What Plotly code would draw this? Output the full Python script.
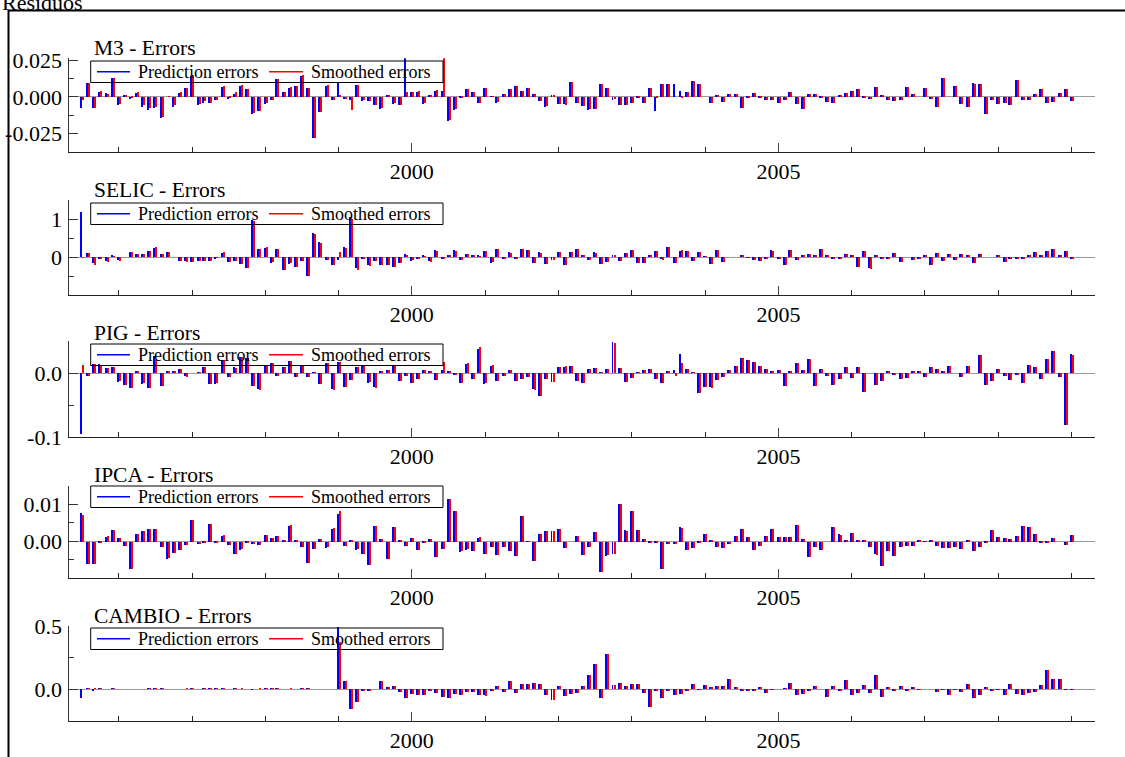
import plotly.graph_objects as go

W, H = 1125, 757

# ---------------- data (monthly, 1995:7 - 2009:1) ----------------
start_year, start_month, n_months = 1995, 7, 163
months = [f"{start_year + (start_month - 1 + k) // 12}-{(start_month - 1 + k) % 12 + 1:02d}-01"
          for k in range(n_months)]

m3_pred = [
    -0.008, 0.0092, -0.008, 0.0033, 0.0025, 0.013, -0.0055, 0.0005, -0.0015, 0.0025,
    -0.007, -0.0088, -0.0078, -0.0145, 0.0, -0.0068, 0.0028, 0.006, 0.014, -0.006,
    -0.004, -0.0045, -0.0025, 0.0065, -0.0015, 0.002, 0.0075, 0.005, -0.0115, -0.010,
    -0.005, -0.0025, 0.012, 0.003, 0.006, 0.007, 0.014, 0.006, -0.028, -0.0105,
    0.0075, -0.0025, 0.009, -0.0015, -0.002, 0.008, -0.003, -0.003, -0.006, -0.0085,
    0.0006, -0.005, -0.0055, 0.026, 0.003, 0.003, -0.005, 0.001, 0.004, 0.004,
    -0.0165, -0.009, -0.001, 0.005, 0.003, -0.004, 0.006, 0.0003, -0.004, 0.0015,
    0.005, 0.007, 0.0035, 0.006, 0.002, -0.003, -0.007, 0.001, -0.005, -0.005,
    0.0097, -0.004, -0.0066, -0.0088, -0.0083, 0.0088, 0.006, -0.002, -0.0055, -0.006,
    -0.0044, -0.001, -0.0044, 0.006, -0.010, 0.0088, 0.0088, 0.0088, 0.0037, 0.0033,
    0.0105, 0.0085, 0.0, -0.0045, 0.001, -0.0035, 0.002, 0.0015, -0.0075, -0.001,
    0.0025, -0.001, -0.0025, -0.002, -0.0045, -0.0025, 0.003, -0.005, -0.0085, 0.002,
    0.002, -0.0008, -0.0035, -0.004, 0.001, 0.0025, 0.004, 0.005, -0.0005, -0.0015,
    0.0065, 0.001, -0.002, -0.003, -0.002, 0.0065, 0.002, 0.0, 0.006, -0.0015,
    -0.007, 0.0125, 0.0, 0.007, -0.005, -0.007, 0.009, 0.0088, -0.012, -0.0025,
    -0.005, -0.004, -0.006, 0.011, -0.002, -0.002, 0.0018, 0.0055, -0.004, -0.0035,
    0.0025, 0.0055, -0.003]
m3_smooth = [
    -0.0026, 0.0092, -0.008, 0.0035, 0.002, 0.013, -0.005, 0.0005, -0.001, 0.003,
    -0.006, -0.008, -0.007, -0.014, 0.0003, -0.006, 0.0032, 0.006, 0.015, -0.005,
    -0.003, -0.004, -0.002, 0.007, -0.001, 0.003, 0.0078, 0.005, -0.011, -0.010,
    -0.004, -0.002, 0.012, 0.003, 0.0065, 0.0075, 0.015, 0.006, -0.028, -0.0105,
    0.0078, -0.002, 0.001, -0.0015, -0.0094, 0.008, -0.0025, -0.003, -0.0055, -0.008,
    0.0006, -0.0045, -0.0055, 0.003, 0.003, 0.0035, -0.0045, 0.001, 0.0045, 0.026,
    -0.016, -0.0085, -0.001, 0.005, 0.003, -0.004, 0.006, 0.0003, -0.0035, 0.0015,
    0.005, 0.007, 0.0035, 0.006, 0.0015, -0.003, -0.0065, 0.001, -0.005, -0.0055,
    0.010, -0.004, -0.0066, -0.0085, -0.0085, 0.0088, 0.006, -0.0015, -0.006, -0.006,
    -0.0044, -0.001, -0.0044, 0.006, -0.0005, 0.0088, 0.0088, 0.0, -0.001, 0.0033,
    0.0105, 0.0085, 0.0, -0.0045, 0.001, -0.0035, 0.002, 0.0015, -0.0075, -0.001,
    0.0025, -0.001, -0.0025, -0.002, -0.0045, -0.0025, 0.003, -0.005, -0.0085, 0.002,
    0.002, -0.0008, -0.0035, -0.004, 0.001, 0.0025, 0.004, 0.005, -0.0005, -0.0015,
    0.0065, 0.001, -0.002, -0.003, -0.002, 0.0065, 0.002, 0.0, 0.006, -0.0015,
    -0.007, 0.0125, 0.0, 0.007, -0.005, -0.007, 0.0088, 0.0088, -0.012, -0.0025,
    -0.005, -0.004, -0.006, 0.011, -0.002, -0.002, 0.0018, 0.0055, -0.004, -0.0035,
    0.0025, 0.0055, -0.003]

selic_pred = [
    1.18, 0.1, -0.15, -0.04, -0.1, 0.04, -0.08, 0.0, 0.12, 0.07,
    0.08, 0.16, 0.25, 0.08, 0.12, 0.0, -0.1, -0.1, -0.12, -0.1,
    -0.1, -0.1, -0.03, 0.1, -0.12, -0.1, -0.18, -0.28, 0.97, 0.22,
    0.25, -0.15, 0.2, -0.35, -0.18, -0.25, -0.1, -0.5, 0.63, 0.4,
    -0.07, -0.2, -0.07, 0.27, 1.05, -0.3, -0.05, -0.22, -0.1, -0.2,
    -0.22, -0.25, -0.17, 0.07, -0.1, -0.05, 0.03, -0.1, 0.18, -0.03,
    0.06, 0.18, -0.07, 0.08, 0.03, 0.03, 0.16, -0.15, 0.2, -0.05,
    0.12, -0.03, 0.22, 0.18, -0.15, 0.12, -0.18, -0.07, 0.13, -0.2,
    0.12, 0.2, 0.05, -0.08, 0.12, -0.18, -0.13, 0.03, -0.1, 0.1,
    0.18, -0.15, -0.15, 0.03, 0.16, -0.06, 0.27, -0.15, 0.16, 0.17,
    -0.1, 0.12, 0.02, -0.18, 0.18, -0.12, 0.0, 0.0, 0.04, -0.02,
    -0.08, -0.1, -0.05, 0.18, -0.04, -0.2, 0.18, -0.07, 0.06, 0.08,
    0.03, 0.22, 0.03, -0.04, -0.04, 0.08, 0.03, -0.25, 0.16, -0.3,
    0.06, -0.06, -0.03, 0.1, -0.12, 0.0, -0.07, -0.05, 0.05, -0.2,
    0.1, -0.1, 0.08, -0.07, 0.07, 0.06, -0.15, 0.08, 0.0, 0.0,
    0.06, -0.12, -0.03, -0.03, -0.04, 0.05, 0.13, 0.03, 0.16, 0.22,
    0.03, 0.15, -0.04]
selic_smooth = [
    -0.02, 0.1, -0.2, -0.05, -0.12, 0.02, -0.1, 0.0, 0.12, 0.08,
    0.08, 0.17, 0.26, 0.07, 0.12, 0.0, -0.1, -0.12, -0.12, -0.1,
    -0.11, -0.1, -0.02, 0.12, -0.13, -0.1, -0.18, -0.3, 0.95, 0.22,
    0.26, -0.14, 0.2, -0.35, -0.17, -0.25, -0.1, -0.5, 0.6, 0.38,
    -0.08, -0.22, 0.14, 0.24, 1.0, -0.33, -0.04, -0.24, -0.1, -0.21,
    -0.22, -0.26, -0.16, 0.05, -0.09, -0.06, 0.02, -0.12, 0.17, -0.03,
    0.05, 0.17, -0.08, 0.07, 0.03, 0.02, 0.15, -0.14, 0.2, -0.06,
    0.11, -0.03, 0.21, 0.18, -0.16, 0.11, -0.18, -0.08, 0.12, -0.2,
    0.12, 0.2, 0.05, -0.09, 0.11, -0.19, -0.14, 0.03, -0.1, 0.1,
    0.18, -0.16, -0.15, 0.03, 0.16, -0.07, 0.26, -0.15, 0.18, 0.17,
    -0.1, 0.12, 0.02, -0.19, 0.18, -0.12, 0.0, 0.0, 0.04, -0.02,
    -0.08, -0.1, -0.05, 0.17, -0.04, -0.2, 0.18, -0.08, 0.06, 0.08,
    0.03, 0.22, 0.03, -0.04, -0.05, 0.08, 0.03, -0.25, 0.15, -0.32,
    0.06, -0.06, -0.03, 0.1, -0.12, 0.0, -0.07, -0.05, 0.05, -0.2,
    0.1, -0.1, 0.08, -0.07, 0.07, 0.06, -0.16, 0.08, 0.0, 0.0,
    0.06, -0.12, -0.03, -0.03, -0.04, 0.05, 0.14, 0.03, 0.16, 0.22,
    0.03, 0.15, -0.04]

pig_pred = [
    -0.096, -0.005, 0.014, 0.014, 0.008, 0.009, -0.014, -0.018, -0.024, 0.002,
    -0.017, -0.023, 0.026, -0.02, 0.002, 0.002, 0.007, -0.005, 0.0, 0.001,
    0.009, -0.017, -0.017, 0.021, -0.007, 0.009, 0.025, 0.024, -0.02, -0.025,
    0.011, 0.015, -0.005, 0.009, 0.019, -0.007, 0.011, -0.006, 0.001, -0.017,
    0.016, -0.025, 0.017, -0.022, -0.011, 0.009, 0.011, -0.015, -0.022, 0.003,
    0.005, 0.011, -0.013, -0.004, -0.016, -0.01, 0.004, 0.002, -0.011, 0.005,
    0.003, -0.002, -0.015, 0.014, -0.01, 0.0375, -0.017, 0.011, -0.012, -0.005,
    0.004, -0.013, -0.009, -0.007, -0.025, -0.036, -0.01, -0.014, 0.009, 0.01,
    0.011, -0.012, -0.015, 0.006, 0.008, 0.001, 0.007, 0.048, 0.008, -0.014,
    -0.008, 0.001, 0.004, 0.006, -0.01, -0.015, 0.002, 0.005, 0.03, 0.006,
    0.001, -0.032, -0.022, -0.022, -0.011, -0.007, 0.005, 0.011, 0.024, 0.02,
    0.017, 0.011, 0.006, 0.003, 0.004, -0.02, 0.003, 0.015, 0.005, 0.022,
    -0.021, 0.006, -0.005, -0.018, -0.01, 0.009, -0.008, 0.009, -0.029, 0.0,
    -0.018, -0.012, 0.003, -0.003, -0.009, -0.008, 0.002, 0.003, -0.006, 0.01,
    0.007, 0.003, 0.011, 0.0, -0.006, 0.011, 0.0, 0.028, -0.019, -0.013,
    0.006, -0.005, -0.011, -0.003, -0.015, 0.013, 0.009, -0.01, 0.022, 0.035,
    -0.006, -0.082, 0.029]
pig_smooth = [
    0.012, -0.004, 0.014, 0.013, 0.008, 0.009, -0.013, -0.019, -0.024, 0.002,
    -0.016, -0.023, 0.02, -0.02, 0.002, 0.002, 0.006, -0.006, 0.0, 0.001,
    0.009, -0.017, -0.016, 0.021, -0.006, 0.008, 0.025, 0.023, -0.02, -0.026,
    0.011, 0.015, -0.004, 0.009, 0.019, -0.007, 0.011, -0.006, 0.001, -0.017,
    0.016, -0.026, 0.017, -0.022, -0.011, 0.009, 0.012, -0.014, -0.023, 0.003,
    0.005, 0.012, -0.013, -0.004, -0.016, -0.01, 0.004, 0.002, -0.011, 0.017,
    0.003, -0.002, -0.015, 0.015, -0.01, 0.04, -0.016, 0.012, -0.012, -0.005,
    0.005, -0.013, -0.009, -0.007, -0.026, -0.036, -0.01, -0.014, 0.009, 0.011,
    0.011, -0.012, -0.015, 0.006, 0.008, 0.001, 0.007, 0.047, 0.008, -0.014,
    -0.008, 0.001, 0.004, 0.006, -0.01, -0.015, 0.002, -0.005, 0.015, 0.006,
    0.001, -0.032, -0.022, -0.023, -0.011, -0.007, 0.005, 0.011, 0.024, 0.02,
    0.017, 0.011, 0.006, 0.003, 0.004, -0.02, 0.003, 0.015, 0.005, 0.022,
    -0.021, 0.006, -0.005, -0.018, -0.01, 0.009, -0.008, 0.009, -0.029, 0.0,
    -0.018, -0.012, 0.003, -0.003, -0.009, -0.008, 0.002, 0.003, -0.006, 0.01,
    0.007, 0.003, 0.011, 0.0, -0.006, 0.011, 0.0, 0.028, -0.019, -0.013,
    0.006, -0.005, -0.011, -0.003, -0.015, 0.013, 0.009, -0.01, 0.022, 0.035,
    -0.006, -0.082, 0.028]

ipca_pred = [
    0.0078, -0.0062, -0.006, -0.0003, 0.0013, 0.003, 0.001, -0.0013, -0.0075, 0.0021,
    0.0028, 0.0034, 0.0034, -0.0015, -0.0046, -0.0032, -0.0024, -0.001, 0.0058, -0.0008,
    -0.0003, 0.0047, -0.0003, 0.0016, -0.001, -0.0035, -0.0022, -0.0002, -0.0008, -0.0009,
    0.0017, 0.001, 0.0015, 0.0002, 0.0043, 0.0003, -0.0016, -0.0058, -0.002, 0.0007,
    -0.0017, 0.0035, 0.0075, -0.0013, 0.0003, -0.0022, -0.0035, -0.0063, 0.0042, 0.0008,
    -0.0047, 0.0039, 0.0004, -0.0013, 0.0009, -0.0023, -0.0003, 0.0007, -0.0043, -0.002,
    0.0115, 0.0083, -0.0028, -0.0022, -0.0027, 0.001, -0.0035, -0.0015, -0.0037, -0.0015,
    -0.0027, -0.0039, 0.0068, -0.0001, -0.0053, 0.002, 0.0028, 0.0028, 0.0033, -0.0018,
    0.0, 0.0016, -0.0036, -0.0015, 0.0026, -0.0082, -0.0038, -0.0035, 0.0102, 0.0031,
    0.0083, 0.0032, 0.0008, -0.0002, -0.0002, -0.0073, -0.0008, -0.0006, 0.0039, -0.0022,
    -0.0017, -0.0005, 0.0021, 0.0004, -0.0016, -0.0018, -0.0006, 0.0014, 0.0034, 0.0013,
    -0.0023, -0.0013, 0.0014, 0.0035, 0.0013, 0.0013, 0.0013, 0.0045, 0.0007, -0.0043,
    -0.0014, -0.0022, 0.0, 0.004, 0.0019, 0.0002, 0.0022, 0.0005, 0.0002, -0.0015,
    -0.0035, -0.0065, -0.0025, -0.004, -0.0015, -0.0013, -0.0013, 0.0004, 0.0001, 0.0002,
    -0.0011, -0.0018, -0.0018, -0.0015, -0.002, 0.0005, -0.0027, -0.0016, -0.0005, 0.0032,
    0.0013, 0.001, 0.0008, 0.0015, 0.0042, 0.0039, 0.002, -0.0005, -0.0005, 0.001,
    0.0, -0.001, 0.0018]
ipca_smooth = [
    0.0072, -0.006, -0.006, -0.0002, 0.0014, 0.0031, 0.001, -0.0012, -0.0075, 0.0021,
    0.0029, 0.0034, 0.0034, -0.0014, -0.0045, -0.003, -0.0023, -0.001, 0.0057, -0.0007,
    -0.0003, 0.0046, -0.0002, 0.0017, -0.001, -0.0034, -0.0021, -0.0002, -0.0008, -0.0009,
    0.0017, 0.001, 0.0016, 0.0003, 0.0044, 0.0003, -0.0016, -0.0058, -0.0019, 0.0007,
    -0.0016, 0.0036, 0.0083, -0.0012, 0.0003, -0.0021, -0.0034, -0.0064, 0.0041, 0.0008,
    -0.0047, 0.0038, 0.0004, -0.0012, 0.0009, -0.0022, -0.0003, 0.0007, -0.0042, -0.002,
    0.0115, 0.0083, -0.0027, -0.0021, -0.0027, 0.0011, -0.0035, -0.0015, -0.0036, -0.0015,
    -0.0027, -0.0038, 0.0068, -0.0001, -0.0053, 0.0021, 0.0029, 0.0028, 0.0034, -0.0018,
    0.0, 0.0016, -0.0036, -0.0015, 0.0026, -0.0082, -0.0037, -0.0034, 0.0101, 0.0029,
    0.0082, 0.0031, 0.0008, -0.0002, -0.0002, -0.0073, -0.0008, -0.0006, 0.0037, -0.0022,
    -0.0017, -0.0005, 0.0021, 0.0004, -0.0016, -0.0018, -0.0006, 0.0014, 0.0034, 0.0013,
    -0.0023, -0.0013, 0.0014, 0.0034, 0.0013, 0.0013, 0.0013, 0.0044, 0.0007, -0.0043,
    -0.0014, -0.0022, 0.0, 0.004, 0.0018, 0.0002, 0.0022, 0.0005, 0.0002, -0.0015,
    -0.0036, -0.0065, -0.0025, -0.004, -0.0015, -0.0013, -0.0013, 0.0004, 0.0001, 0.0002,
    -0.0011, -0.0018, -0.0018, -0.0015, -0.002, 0.0005, -0.0027, -0.0016, -0.0005, 0.0032,
    0.0013, 0.001, 0.0008, 0.0015, 0.0041, 0.0039, 0.002, -0.0005, -0.0005, 0.001,
    0.0, -0.001, 0.0018]

cambio_pred = [
    -0.075, 0.004, -0.01, 0.003, 0.0, 0.002, 0.0, 0.0, 0.0, 0.0,
    0.0, 0.003, 0.004, 0.003, 0.0, 0.0, 0.0, 0.0, 0.003, 0.0,
    0.003, 0.003, 0.003, 0.002, 0.0, 0.003, 0.0, 0.0, -0.004, 0.0,
    0.003, 0.003, 0.003, 0.0, 0.0, 0.0, 0.004, 0.004, 0.0, 0.0,
    0.0, 0.0, 0.49, 0.06, -0.155, -0.1, -0.01, -0.01, 0.0, 0.06,
    0.015, 0.025, -0.02, -0.075, -0.04, -0.045, -0.05, -0.015, -0.03, -0.06,
    -0.07, -0.04, -0.05, -0.02, -0.025, -0.045, -0.05, -0.01, 0.02, -0.02,
    0.06, -0.035, 0.04, 0.04, 0.045, 0.04, -0.05, -0.085, 0.02, -0.055,
    -0.04, -0.03, 0.027, 0.11, 0.2, -0.07, 0.28, 0.03, 0.05, 0.025,
    0.038, 0.038, -0.035, -0.14, -0.01, -0.07, -0.01, -0.045, -0.04, -0.015,
    0.04, -0.005, 0.03, 0.01, 0.025, 0.025, 0.08, 0.01, -0.01, -0.015,
    -0.01, 0.015, -0.03, -0.005, 0.0, 0.005, 0.05, -0.045, -0.04, -0.01,
    0.02, 0.0, -0.065, 0.025, -0.01, 0.07, -0.05, -0.03, 0.035, -0.035,
    0.11, -0.06, 0.015, -0.01, 0.02, -0.01, 0.01, -0.005, 0.0, 0.0,
    -0.025, -0.005, -0.05, -0.005, -0.025, 0.04, -0.075, -0.05, 0.01, -0.01,
    -0.005, -0.05, 0.04, -0.04, -0.045, -0.03, -0.02, 0.035, 0.15, 0.08,
    0.08, -0.005, -0.005]
cambio_smooth = [
    0.0, 0.005, 0.004, 0.003, 0.0, 0.003, 0.0, 0.0, 0.0, 0.0,
    0.0, 0.004, 0.004, 0.004, 0.0, 0.0, 0.0, 0.003, 0.003, 0.0,
    0.003, 0.003, 0.003, 0.003, 0.0, 0.003, 0.003, 0.0, 0.0, 0.003,
    0.003, 0.003, 0.003, 0.0, 0.003, 0.0, 0.004, 0.004, 0.0, 0.0,
    0.0, 0.0, 0.37, 0.065, -0.155, -0.1, -0.012, -0.01, 0.0, 0.062,
    0.015, 0.024, -0.02, -0.072, -0.04, -0.047, -0.05, -0.015, -0.032, -0.06,
    -0.072, -0.04, -0.05, -0.02, -0.025, -0.045, -0.052, -0.01, 0.02, -0.02,
    0.06, -0.035, 0.042, 0.04, 0.045, 0.04, -0.05, -0.085, 0.02, -0.055,
    -0.042, -0.03, 0.027, 0.11, 0.2, -0.07, 0.28, 0.03, 0.05, 0.025,
    0.038, 0.038, -0.035, -0.14, -0.01, -0.07, -0.01, -0.045, -0.04, -0.015,
    0.04, -0.005, 0.03, 0.01, 0.025, 0.025, 0.08, 0.01, -0.01, -0.015,
    -0.01, 0.015, -0.03, -0.005, 0.0, 0.005, 0.05, -0.045, -0.04, -0.01,
    0.02, 0.0, -0.065, 0.025, -0.01, 0.07, -0.05, -0.03, 0.035, -0.035,
    0.11, -0.06, 0.015, -0.01, 0.02, -0.01, 0.01, -0.005, 0.0, 0.0,
    -0.025, -0.005, -0.05, -0.005, -0.025, 0.04, -0.075, -0.05, 0.01, -0.01,
    -0.005, -0.05, 0.04, -0.04, -0.045, -0.03, -0.02, 0.035, 0.15, 0.08,
    0.08, -0.005, -0.005]

panel_titles = ["M3 - Errors", "SELIC - Errors", "PIG - Errors", "IPCA - Errors", "CAMBIO - Errors"]
series_pred = [m3_pred, selic_pred, pig_pred, ipca_pred, cambio_pred]
series_smooth = [m3_smooth, selic_smooth, pig_smooth, ipca_smooth, cambio_smooth]
y_ranges = [[-0.0375, 0.0263], [-1.0, 1.5], [-0.1, 0.05], [-0.01, 0.015], [-0.25, 0.5]]
y_tickvals = [[-0.025, 0.0, 0.025], [0, 1], [-0.1, 0.0], [0.0, 0.01], [0.0, 0.5]]
y_ticktext = [["-0.025", "0.000", "0.025"], ["0", "1"], ["-0.1", "0.0"], ["0.00", "0.01"], ["0.0", "0.5"]]
y_minor = [[-0.0125, 0.0125], [-0.5, 0.5, 1.5], [-0.05, 0.05], [-0.005, 0.005, 0.015], [-0.25, 0.25]]
x_major = ["2000-01-01", "2005-01-01"]
x_major_text = ["2000", "2005"]
x_minor = [f"{y}-01-01" for y in range(1996, 2010) if y not in (2000, 2005)]
x_range = ["1995-04-30", "2009-04-25"]
legend_names = ["Prediction errors", "Smoothed errors"]

# ---------------- layout geometry (pixels) ----------------
plot_left, plot_right = 69.3, 1094.5
panel_top = [58.3, 200.0, 341.0, 485.5, 626.0]
panel_bottom = [152.0, 295.0, 437.0, 578.0, 720.5]
title_y = [48, 190, 333, 475, 616]
legend_top = [61, 203, 344, 486, 628]
leg_x0, leg_x1, leg_h = 90.7, 443.0, 21.5
leg_line1 = (97, 130)
leg_text1 = 136
leg_line2 = (269, 303)
leg_text2 = 309

FONT = "Liberation Serif, Times New Roman, Times, serif"
DAY = 86400000
BLUE, RED = "#0000ff", "#ff0000"


def px_x(v):
    return v / W


def px_y(v):
    return 1 - v / H


fig = go.Figure()
annotations = []
shapes = []
for k in range(5):
    n = k + 1
    xa = "x" if n == 1 else f"x{n}"
    ya = "y" if n == 1 else f"y{n}"
    fig.add_trace(go.Bar(x=months, y=series_pred[k], xaxis=xa, yaxis=ya,
                         marker=dict(color=BLUE, line=dict(width=0)),
                         offset=-5 * DAY, width=5 * DAY, showlegend=False,
                         name=legend_names[0]))
    fig.add_trace(go.Bar(x=months, y=series_smooth[k], xaxis=xa, yaxis=ya,
                         marker=dict(color=RED, line=dict(width=0)),
                         offset=5 * DAY, width=5 * DAY, showlegend=False,
                         name=legend_names[1]))

    dom_y = [px_y(panel_bottom[k]), px_y(panel_top[k])]
    xkey = "xaxis" if n == 1 else f"xaxis{n}"
    ykey = "yaxis" if n == 1 else f"yaxis{n}"
    fig.update_layout({
        xkey: dict(domain=[px_x(plot_left), px_x(plot_right)], anchor=ya, type="date",
                   range=x_range, showline=True, linecolor="#222", linewidth=1,
                   ticks="inside", ticklen=9, tickwidth=1, tickcolor="#444",
                   tickmode="array", tickvals=x_major, ticktext=x_major_text,
                   tickfont=dict(family=FONT, size=22, color="black"),
                   ticklabelstandoff=0, automargin=False,
                   showgrid=False, zeroline=False, fixedrange=True,
                   minor=dict(tickmode="array", tickvals=x_minor, ticks="inside",
                              ticklen=5, tickwidth=1, tickcolor="#222", showgrid=False)),
        ykey: dict(domain=dom_y, anchor=xa, range=y_ranges[k], showline=True,
                   linecolor="#333", linewidth=1, ticks="inside", ticklen=9,
                   tickwidth=1, tickcolor="#333", tickmode="array",
                   tickvals=y_tickvals[k], ticktext=y_ticktext[k],
                   tickfont=dict(family=FONT, size=22, color="black"),
                   ticklabelstandoff=2, automargin=False, fixedrange=True,
                   showgrid=False, zeroline=True, zerolinecolor="#9a9a9a",
                   zerolinewidth=1,
                   minor=dict(tickmode="array", tickvals=y_minor[k], ticks="inside",
                              ticklen=5, tickwidth=1, tickcolor="#333", showgrid=False)),
    })
    # panel title
    annotations.append(dict(text=panel_titles[k], xref="paper", yref="paper",
                            x=px_x(92), y=px_y(title_y[k]), xanchor="left", yanchor="middle",
                            showarrow=False, font=dict(family=FONT, size=21.5, color="black")))
    # legend box with line samples
    lt = legend_top[k]
    lc = lt + leg_h / 2
    shapes.append(dict(type="rect", xref="paper", yref="paper",
                       x0=px_x(leg_x0), x1=px_x(leg_x1), y0=px_y(lt + leg_h), y1=px_y(lt),
                       line=dict(color="black", width=1), fillcolor="rgba(0,0,0,0)"))
    shapes.append(dict(type="line", xref="paper", yref="paper",
                       x0=px_x(leg_line1[0]), x1=px_x(leg_line1[1]), y0=px_y(lc), y1=px_y(lc),
                       line=dict(color=BLUE, width=1.5)))
    shapes.append(dict(type="line", xref="paper", yref="paper",
                       x0=px_x(leg_line2[0]), x1=px_x(leg_line2[1]), y0=px_y(lc), y1=px_y(lc),
                       line=dict(color=RED, width=1.5)))
    annotations.append(dict(text=legend_names[0], xref="paper", yref="paper",
                            x=px_x(leg_text1), y=px_y(lc + 0.5), xanchor="left", yanchor="middle",
                            showarrow=False, font=dict(family=FONT, size=18, color="black")))
    annotations.append(dict(text=legend_names[1], xref="paper", yref="paper",
                            x=px_x(leg_text2), y=px_y(lc + 0.5), xanchor="left", yanchor="middle",
                            showarrow=False, font=dict(family=FONT, size=18, color="black")))

annotations.append(dict(text="Residuos", xref="paper", yref="paper", x=0, y=px_y(17),
                        xanchor="left", yanchor="bottom", showarrow=False,
                        font=dict(family=FONT, size=22, color="black")))

# outer frame
shapes.append(dict(type="rect", xref="paper", yref="paper",
                   x0=px_x(8.5), x1=1.02, y0=-0.05, y1=px_y(10.5),
                   line=dict(color="black", width=2), fillcolor="rgba(0,0,0,0)"))

fig.update_layout(
    width=W, height=H,
    margin=dict(l=0, r=0, t=0, b=0, pad=0, autoexpand=False),
    paper_bgcolor="white", plot_bgcolor="white",
    barmode="overlay", bargap=0, showlegend=False,
    annotations=annotations, shapes=shapes,
    font=dict(family=FONT, color="black"),
)

fig.write_html("out.html", config={"displayModeBar": False},
               post_script="document.body.style.margin='0';")
